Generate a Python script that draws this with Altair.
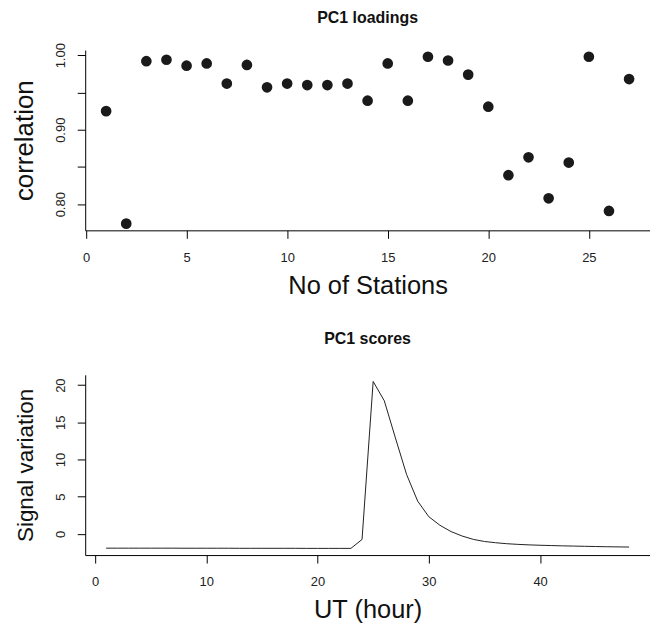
import altair as alt
import pandas as pd

# ---- data ----
stations = list(range(1, 28))
correlation = [0.925, 0.774, 0.992, 0.994, 0.986, 0.989, 0.962, 0.987, 0.957,
               0.962, 0.960, 0.960, 0.962, 0.939, 0.989, 0.939, 0.998, 0.993,
               0.974, 0.931, 0.839, 0.863, 0.808, 0.856, 0.998, 0.791, 0.968]

hours = list(range(1, 49))
signal = [-1.93, -1.93, -1.93, -1.93, -1.93, -1.93, -1.93, -1.94, -1.94, -1.94,
          -1.94, -1.94, -1.95, -1.95, -1.95, -1.95, -1.95, -1.95, -1.96, -1.96,
          -1.96, -1.96, -1.96, -0.76, 20.5, 17.9, 12.9, 8.0, 4.4, 2.3,
          1.15, 0.3, -0.3, -0.75, -1.03, -1.2, -1.33, -1.42, -1.49, -1.54,
          -1.58, -1.62, -1.65, -1.68, -1.71, -1.74, -1.76, -1.78]

x_ticks_top = [0, 5, 10, 15, 20, 25]
y_ticks_top = [0.80, 0.85, 0.90, 0.95, 1.00]
x_ticks_bot = [0, 10, 20, 30, 40]
y_ticks_bot = [0, 5, 10, 15, 20]

load_df = pd.DataFrame({"station": stations, "correlation": correlation})
score_df = pd.DataFrame({"hour": hours, "signal": signal})

FONT = "Liberation Sans"
W, H = 567, 181

common = dict(
    domainColor="#000", domainWidth=1, tickColor="#000", tickSize=8, tickWidth=1,
    labelFont=FONT, labelFontSize=13, labelColor="#222", labelFlush=False,
    labelOverlap=False, titleFont=FONT, titleFontWeight="normal",
    titleColor="#111", grid=False,
)


def xaxis(title, values):
    return alt.Axis(title=title, values=values, labelPadding=13, titleY=63,
                    titleFontSize=25.5, titleBaseline="alphabetic", **common)


def yaxis(title, values, size, expr=None):
    kw = dict(title=title, values=values, labelAngle=270, labelAlign="center",
              labelBaseline="alphabetic", labelPadding=12.5, titleX=-53,
              titleFontSize=size, titleBaseline="alphabetic", titleAngle=270, **common)
    if expr:
        kw["labelExpr"] = expr
    return alt.Axis(**kw)


top = alt.Chart(
    load_df,
    title=alt.TitleParams("PC1 loadings", fontSize=16, fontWeight="bold", font=FONT,
                          anchor="middle", frame="group", baseline="alphabetic",
                          offset=4, color="#111"),
).mark_circle(size=115, color="#1a1a1a", opacity=1).encode(
    x=alt.X("station:Q", scale=alt.Scale(domain=[-0.04, 28.04], nice=False, zero=False),
            axis=xaxis("No of Stations", x_ticks_top)),
    y=alt.Y("correlation:Q", scale=alt.Scale(domain=[0.765, 1.007], nice=False, zero=False),
            axis=yaxis("correlation", y_ticks_top, 26,
                       "abs(datum.value - 0.85) < 1e-6 || abs(datum.value - 0.95) < 1e-6 ? '' : format(datum.value, '.2f')")),
).properties(width=W, height=H)

bottom = alt.Chart(
    score_df,
    title=alt.TitleParams("PC1 scores", fontSize=16, fontWeight="bold", font=FONT,
                          anchor="middle", frame="group", baseline="alphabetic",
                          offset=14.5, color="#111"),
).mark_line(color="#222", strokeWidth=1).encode(
    x=alt.X("hour:Q", scale=alt.Scale(domain=[-0.88, 49.88], nice=False, zero=False),
            axis=xaxis("UT (hour)", x_ticks_bot)),
    y=alt.Y("signal:Q", scale=alt.Scale(domain=[-2.86, 21.4], nice=False, zero=False),
            axis=yaxis("Signal variation", y_ticks_bot, 22.5)),
).properties(width=W, height=H)

chart = alt.vconcat(top, bottom, spacing=145, bounds="flush").properties(
    padding={"left": 3.5, "top": 0, "right": 0, "bottom": 0},
    autosize=alt.AutoSizeParams(type="pad"),
).configure_view(stroke=None)

chart.save("out.html", embed_options={"renderer": "svg", "actions": False})
